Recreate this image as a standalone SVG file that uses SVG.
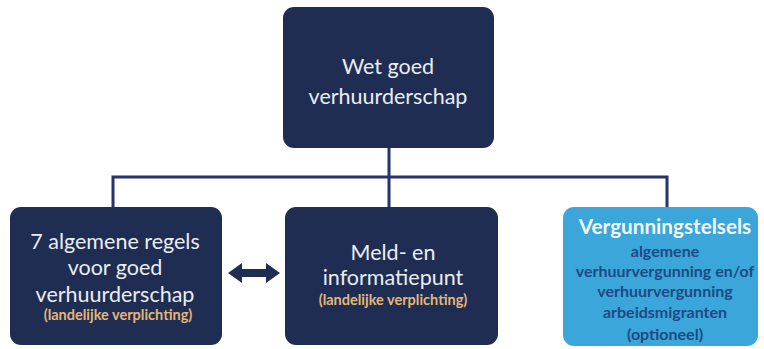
<svg xmlns="http://www.w3.org/2000/svg" width="764" height="349" viewBox="0 0 764 349">
<style>
.dark{fill:#1f2d52;}
.light{fill:#3aa6da;}
.t{font-family:Lato,"Open Sans",sans-serif;text-anchor:middle;}
.w{fill:#e9edf3;font-size:21.5px;}
.o{fill:#e2b77a;font-size:14.5px;font-weight:bold;}
.vt{fill:#f2f8fc;font-size:20.7px;font-weight:bold;}
.vb{fill:#1d4a86;font-size:16px;font-weight:bold;}
.ln{stroke:#27336a;stroke-width:3;fill:none;}
</style>
<rect width="764" height="349" fill="#ffffff"/>
<g id="connectors">
<path class="ln" d="M389 148 V207 M113 207 V177 H667 V207"/>
<path d="M228 273 L242 263 V269 H266 V263 L280 273 L266 283 V277 H242 V283 Z" fill="#1f2d52"/>
</g>
<g id="wet">
<rect class="dark" x="283" y="7" width="211" height="141" rx="11"/>
<text class="t w" x="388" y="74">Wet goed</text>
<text class="t w" x="388" y="104">verhuurderschap</text>
</g>
<g id="regels">
<rect class="dark" x="10" y="207" width="212" height="138" rx="11"/>
<text class="t w" x="115" y="249">7 algemene regels</text>
<text class="t w" x="115" y="275">voor goed</text>
<text class="t w" x="115" y="302">verhuurderschap</text>
<text class="t o" x="118" y="320">(landelijke verplichting)</text>
</g>
<g id="meldpunt">
<rect class="dark" x="285" y="207" width="213" height="138" rx="11"/>
<text class="t w" x="393" y="260">Meld- en</text>
<text class="t w" x="393" y="285">informatiepunt</text>
<text class="t o" x="393" y="305">(landelijke verplichting)</text>
</g>
<g id="vergunning">
<rect class="light" x="563" y="207" width="195" height="139" rx="11"/>
<text class="t vt" x="665" y="234">Vergunningstelsels</text>
<text class="t vb" x="665" y="257">algemene</text>
<text class="t vb" x="665" y="277">verhuurvergunning en/of</text>
<text class="t vb" x="665" y="297">verhuurvergunning</text>
<text class="t vb" x="665" y="318">arbeidsmigranten</text>
<text class="t vb" x="665" y="340">(optioneel)</text>
</g>
</svg>
